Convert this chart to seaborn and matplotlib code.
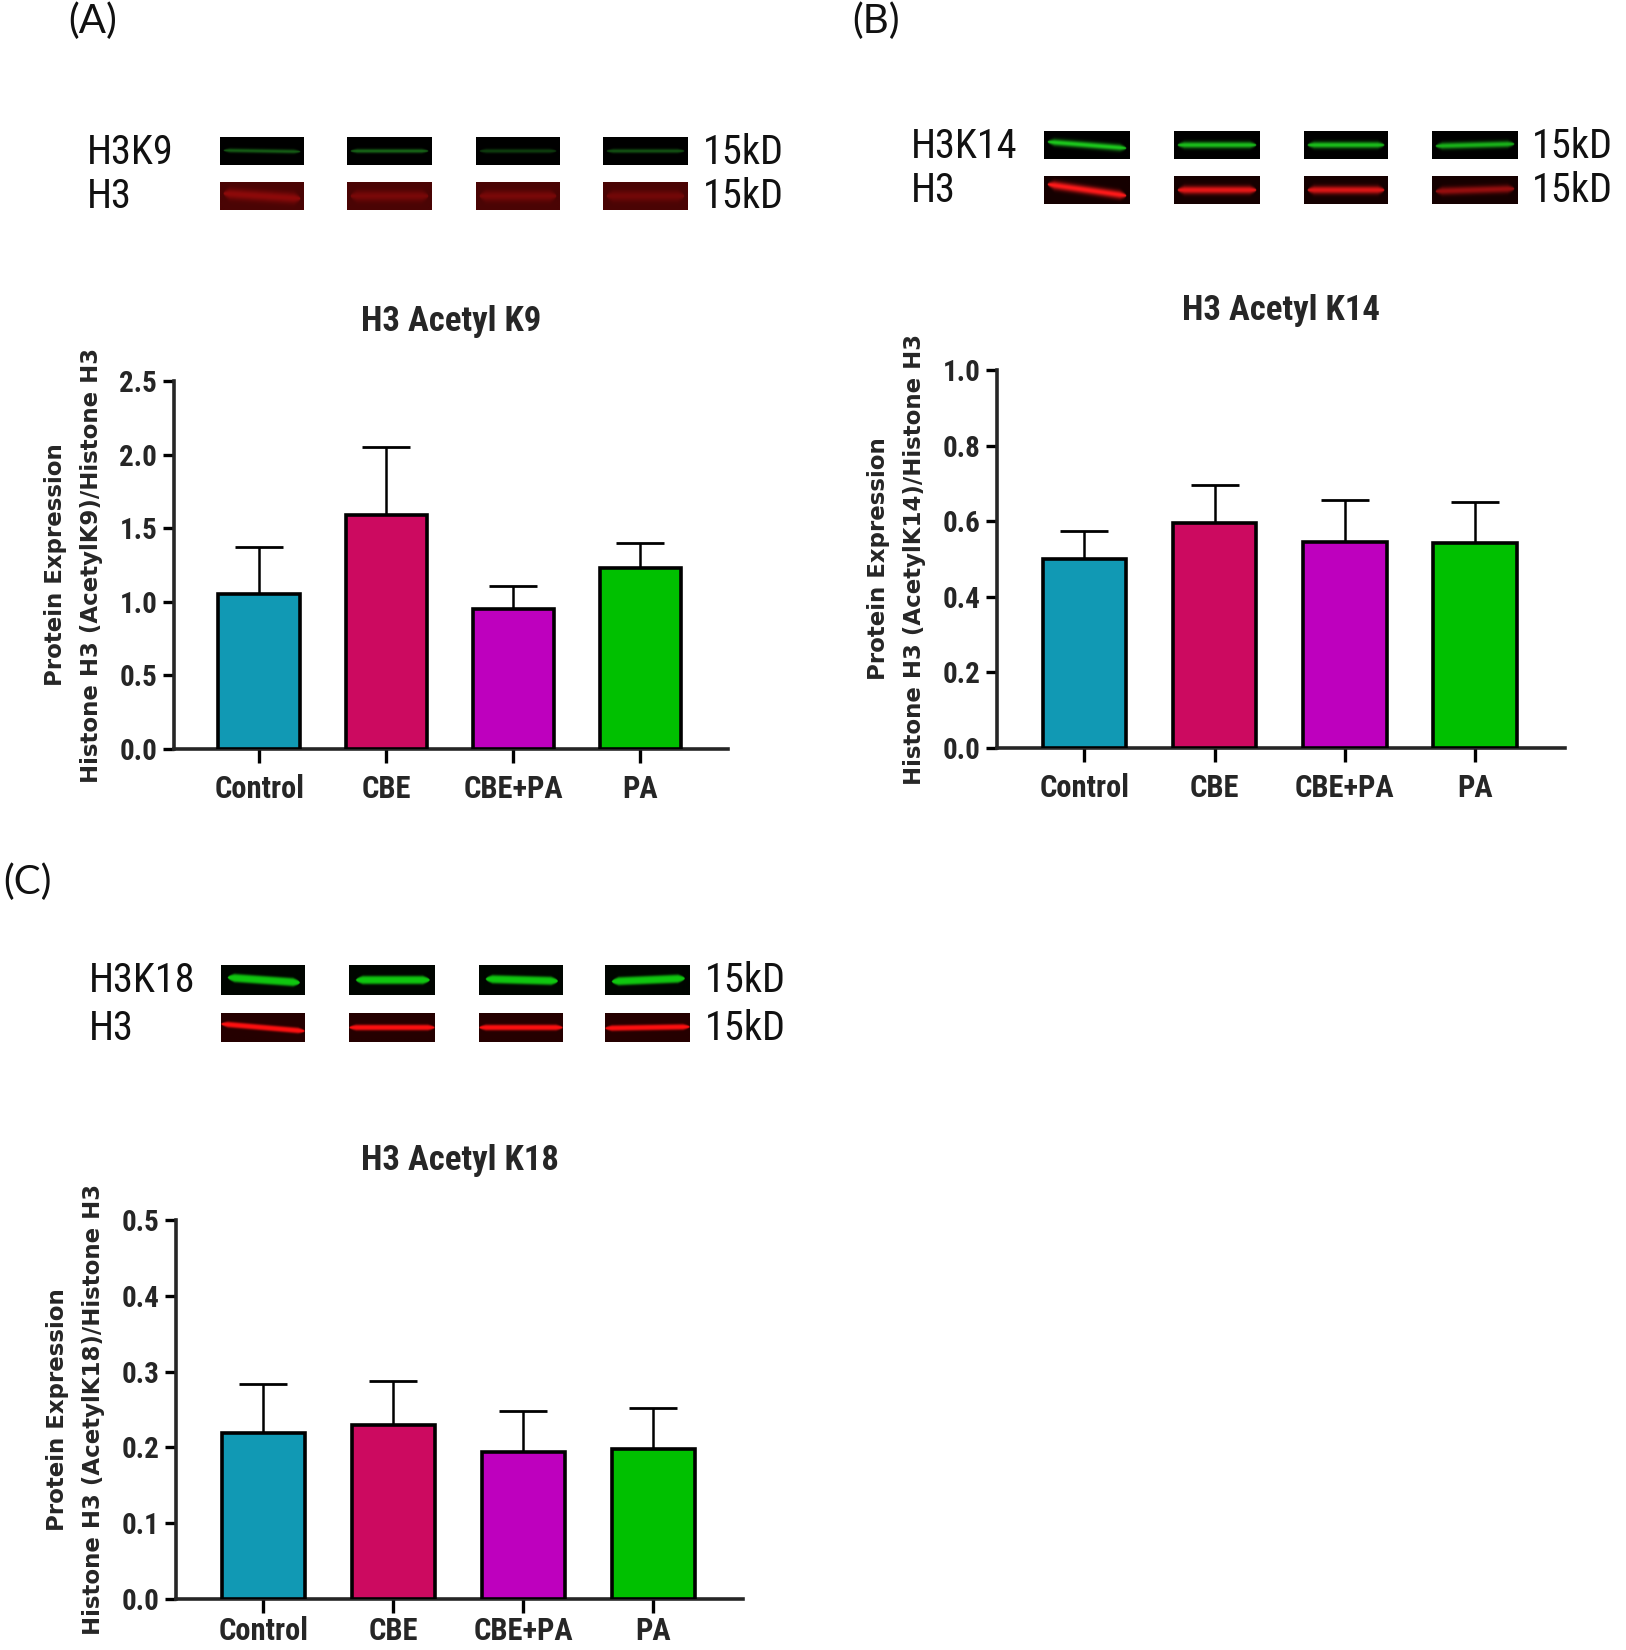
import os
import matplotlib
matplotlib.use("Agg")
import matplotlib.pyplot as plt
from matplotlib import font_manager as fm
import numpy as np
import pandas as pd
import seaborn as sns

groups = ["Control", "CBE", "CBE+PA", "PA"]
colors = ["#1199B4", "#CC0A60", "#BE00BE", "#00C000"]

k9_mean = [1.05, 1.59, 0.95, 1.23]
k9_sd = [0.32, 0.46, 0.16, 0.17]
k14_mean = [0.50, 0.595, 0.545, 0.542]
k14_sd = [0.075, 0.10, 0.11, 0.108]
k18_mean = [0.219, 0.229, 0.194, 0.198]
k18_sd = [0.065, 0.058, 0.054, 0.054]

k9_ticks = [0.0, 0.5, 1.0, 1.5, 2.0, 2.5]
k14_ticks = [0.0, 0.2, 0.4, 0.6, 0.8, 1.0]
k18_ticks = [0.0, 0.1, 0.2, 0.3, 0.4, 0.5]

W, H = 1626, 1650

sns.set_style("ticks")
plt.rcParams["font.family"] = ["DejaVu Sans"]


def pick_font(stems, fallback):
    files = {os.path.splitext(os.path.basename(f.fname))[0].lower(): f.fname
             for f in fm.fontManager.ttflist}
    for s in stems:
        if s.lower() in files:
            return fm.FontProperties(fname=files[s.lower()])
    return fm.FontProperties(**fallback)


# condensed fonts for the GraphPad-like text, if any are installed
narrow_bold = pick_font(["LiberationSansNarrow-Bold", "RobotoCondensed-Bold",
                         "NotoSans-CondensedBold", "NotoSans-SemiCondensedBold",
                         "DejaVuSansCondensed-Bold", "OpenSans-CondBold",
                         "OpenSans_Condensed-Bold", "Roboto-Bold"],
                        dict(family="DejaVu Sans", weight="bold"))
narrow_reg = pick_font(["LiberationSansNarrow-Regular", "RobotoCondensed-Regular",
                        "NotoSans-Condensed", "NotoSans-SemiCondensed",
                        "DejaVuSansCondensed", "OpenSans_Condensed-Regular",
                        "Roboto-Regular"],
                       dict(family="DejaVu Sans"))

fig = plt.figure(figsize=(W / 100, H / 100), dpi=100)

# overlay in pixel coordinates for blots and panel letters
ov = fig.add_axes([0, 0, 1, 1])
ov.set_xlim(0, W)
ov.set_ylim(H, 0)
ov.axis("off")


def band_img(color, bg, level, sigma, tilt=0.0, power=2.0, lo=0.04, hi=0.96, soft=0.08):
    h, w = 60, 160
    yy, xx = np.mgrid[0:h, 0:w]
    y = yy / (h - 1)
    x = xx / (w - 1)
    center = 0.5 + tilt * (x - 0.5)
    ends = np.clip((x - lo) / soft, 0, 1) * np.clip((hi - x) / soft, 0, 1)
    sig = sigma * np.sqrt(np.clip(ends, 0, 1)) + 1e-6
    prof = np.exp(-0.5 * np.abs((y - center) / sig) ** power)
    amt = (level * prof * (ends > 0))[..., None]
    c = np.array(matplotlib.colors.to_rgb(color))
    b = np.array(matplotlib.colors.to_rgb(bg))
    return np.clip(b + amt * (c - b), 0, 1)


def draw_blot(lanes_x, row_y, box_h, label, color, bg, levels, sigma, tilts,
              label_x, kd_x, power=2.0, lo=0.04, hi=0.96):
    for (x0, x1), lv, tl in zip(lanes_x, levels, tilts):
        img = band_img(color, bg, lv, sigma, tl, power, lo, hi)
        ov.imshow(img, extent=(x0, x1, row_y + box_h, row_y), aspect="auto",
                  interpolation="bilinear", zorder=2)
    ov.text(label_x, row_y + box_h / 2 + 1, label, fontproperties=narrow_reg, fontsize=29,
            ha="left", va="center", color="#111111")
    ov.text(kd_x, row_y + box_h / 2 + 1, "15kD", fontproperties=narrow_reg, fontsize=29,
            ha="left", va="center", color="#111111")


# (A) blot
lanes_a = [(220, 304), (347, 431), (476, 560), (603, 688)]
draw_blot(lanes_a, 137, 28, "H3K9", "#30d030", "#000000", [0.45, 0.5, 0.3, 0.4], 0.05,
          [0.05, 0, 0, 0], 87, 703)
draw_blot(lanes_a, 182, 28, "H3", "#d01010", "#4a0404", [0.5, 0.35, 0.35, 0.3], 0.13,
          [0.2, 0, 0, 0], 87, 703)

# (B) blot
lanes_b = [(1044, 1130), (1174, 1260), (1304, 1388), (1432, 1518)]
draw_blot(lanes_b, 131, 28, "H3K14", "#20e020", "#000000", [0.9, 0.85, 0.85, 0.8], 0.08,
          [0.25, 0, 0, -0.08], 911, 1532)
draw_blot(lanes_b, 176, 28, "H3", "#ff1a1a", "#150000", [1.0, 0.9, 0.85, 0.55], 0.1,
          [0.45, 0, 0, -0.1], 911, 1532)

# (C) blot
lanes_c = [(221, 305), (349, 434), (479, 563), (605, 690)]
draw_blot(lanes_c, 965, 30, "H3K18", "#10c810", "#000500", [1.0, 1.0, 1.0, 1.0], 0.12,
          [0.2, 0, 0.08, -0.12], 89, 705, power=4, lo=0.08, hi=0.94)
draw_blot(lanes_c, 1013, 29, "H3", "#ff1010", "#250000", [1.0, 1.0, 1.0, 1.0], 0.08,
          [0.25, 0, 0, -0.05], 89, 705, power=3, lo=0.0, hi=1.0)

for letter, x, y in [("(A)", 68, 21), ("(B)", 852, 21), ("(C)", 3, 882)]:
    ov.text(x, y, letter, family="Lato", fontsize=29, ha="left", va="center", color="#111111")


def bar_panel(rect, means, sds, ticks, title, ylabel, xpad=8):
    ax = fig.add_axes(rect)
    ax.set_facecolor("none")
    df = pd.DataFrame({"group": groups, "value": means})
    sns.barplot(data=df, x="group", y="value", hue="group", palette=colors,
                order=groups, hue_order=groups, width=0.64, errorbar=None, saturation=1,
                edgecolor="black", linewidth=2.6, legend=False, ax=ax, zorder=3)
    ax.errorbar(range(len(groups)), means, yerr=[np.zeros(len(sds)), sds], fmt="none",
                ecolor="black", elinewidth=1.8, capsize=17, capthick=2.0, zorder=2)
    ax.set_ylim(ticks[0], ticks[-1])
    ax.set_xlim(-0.67, 3.69)
    ax.set_yticks(ticks)
    ax.set_yticklabels([f"{t:.1f}" for t in ticks], fontproperties=narrow_bold, fontsize=21)
    ax.set_xticks(range(len(groups)))
    ax.set_xticklabels(groups, fontproperties=narrow_bold, fontsize=22)
    sns.despine(ax=ax)
    for s in ["left", "bottom"]:
        ax.spines[s].set_linewidth(2.6)
    ax.tick_params(axis="both", width=2.4, length=8, pad=4, color="black")
    ax.tick_params(axis="x", length=10, pad=xpad)
    ax.set_xlabel("")
    ax.set_ylabel(ylabel, fontweight="bold", fontsize=16.5, linespacing=1.7, labelpad=12)
    ax.set_title(title, fontproperties=narrow_bold, fontsize=25, pad=36)
    return ax


bar_panel([174 / W, 1 - 749 / H, 554 / W, 368 / H], k9_mean, k9_sd, k9_ticks,
          "H3 Acetyl K9", "Protein Expression\nHistone H3 (AcetylK9)/Histone H3")
bar_panel([997 / W, 1 - 748 / H, 568 / W, 378 / H], k14_mean, k14_sd, k14_ticks,
          "H3 Acetyl K14", "Protein Expression\nHistone H3 (AcetylK14)/Histone H3")
bar_panel([176 / W, 1 - 1599 / H, 567 / W, 379 / H], k18_mean, k18_sd, k18_ticks,
          "H3 Acetyl K18", "Protein Expression\nHistone H3 (AcetylK18)/Histone H3", xpad=2)

fig.savefig("out.png", dpi=100)
